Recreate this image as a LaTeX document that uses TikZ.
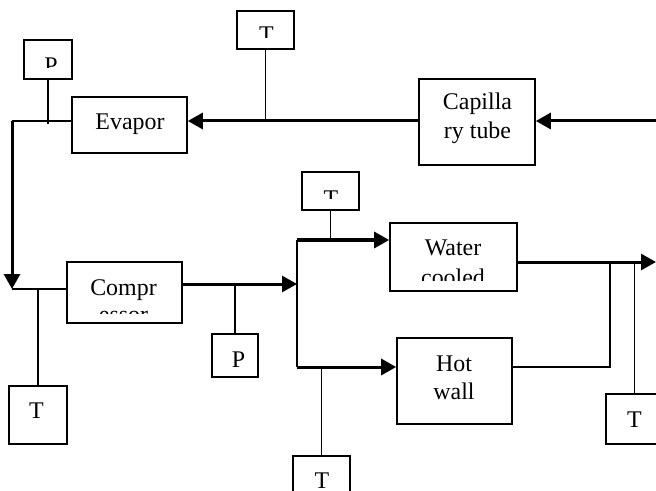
\documentclass[tikz,border=0pt]{standalone}
\usepackage{fontspec}
\setmainfont{Liberation Serif}
\usetikzlibrary{arrows.meta}
\begin{document}
\begin{tikzpicture}[x=1bp,y=-1bp,>={Triangle[length=15bp,width=16bp]},line join=miter]
\tikzset{
  unit/.style={draw,line width=1.6bp,inner sep=0pt},
  sensor/.style={unit},
  flow/.style={line width=3bp},
  tap/.style={line width=1.2bp},
  lbl/.style={inner sep=0pt,anchor=base,font=\fontsize{24}{29}\selectfont},
}
\useasboundingbox (0,0) rectangle (656,491);
\clip (0,0) rectangle (656,491);
%%
  % Node: evaporator
  \node[unit,minimum width=115bp,minimum height=56bp] (evap) at (129.5,125) {};
  \node[lbl] at (130,129.5) {Evapor};
  % Node: capillary
  \node[unit,minimum width=116bp,minimum height=86bp] (cap) at (477,122) {};
  \node[lbl] at (477.5,110) {Capilla};
  \node[lbl] at (477.5,139) {ry tube};
  % Node: compressor
  \node[unit,minimum width=115bp,minimum height=61bp] (comp) at (124.5,292.5) {};
\begin{scope}
  \clip (67,262) rectangle (182,313.5);
  \node[lbl] at (123.5,295) {Compr};
  \node[lbl] at (123.5,322) {essor};
\end{scope}
  % Node: watercooled
  \node[unit,minimum width=127bp,minimum height=68bp] (water) at (453.5,257) {};
\begin{scope}
  \clip (390,223) rectangle (517,280);
  \node[lbl] at (453,256) {Water};
  \node[lbl] at (453,285.5) {cooled};
\end{scope}
  % Node: hotwall
  \node[unit,minimum width=115bp,minimum height=86bp] (hot) at (454.5,381) {};
  \node[lbl] at (454,371) {Hot};
  \node[lbl] at (454,399) {wall};
  % Node: sensors
  \node[sensor,minimum width=48bp,minimum height=39bp] (pev) at (48,59.5) {};
  \node[sensor,minimum width=57bp,minimum height=38bp] (tev) at (265.5,30) {};
  \node[sensor,minimum width=58bp,minimum height=58bp] (tl) at (38,415) {};
  \node[sensor,minimum width=46bp,minimum height=43bp] (pc) at (235,355.5) {};
  \node[sensor,minimum width=57bp,minimum height=38bp] (tw) at (330.5,191) {};
  \node[sensor,minimum width=57bp,minimum height=50bp] (tr) at (634.5,419) {};
  \node[sensor,minimum width=57bp,minimum height=44bp] (tb) at (321.5,478) {};
\begin{scope}
  \clip (24,40) rectangle (72,68);
  \node[lbl] at (51,73.6) {P};
\end{scope}
\begin{scope}
  \clip (237,11) rectangle (294,38);
  \node[lbl] at (266.5,42.6) {T};
\end{scope}
\begin{scope}
  \clip (302,172) rectangle (359,199);
  \node[lbl] at (331,206.6) {T};
\end{scope}
  \node[lbl] at (238.5,367) {P};
  \node[lbl] at (36.5,418) {T};
  \node[lbl] at (634.5,427) {T};
  \node[lbl] at (322,488.6) {T};
  % Edge: inlet -> cap -> evap
  \coordinate (inlet) at (656,121);
  \draw[flow,->] (inlet) -- (cap.east |- inlet);
  \draw[flow,->] (cap.west |- inlet) -- (evap.east |- inlet);
  \draw[tap] (tev.south) -- (tev.south |- inlet);
  % Edge: evap -> comp
  \coordinate (evout) at (12,121);
  \coordinate (compin) at (12,289);
  \draw[tap] (evap.west |- evout) -- (evout);
  \draw[tap] (pev.south) -- ++(0,44);
  \draw[flow,->] (evout) -- (compin);
  \draw[tap] (compin) -- (comp.west |- compin);
  \draw[tap] (tl.north) -- (tl.north |- compin);
  % Edge: comp -> split
  \coordinate (split) at (297,284);
  \draw[flow,->] (comp.east |- split) -- (split);
  \draw[tap] (pc.north) -- (pc.north |- split);
  % Edge: split -> water, split -> hot
  \coordinate (wtin) at (297,240);
  \coordinate (htin) at (297,367);
  \draw[tap] (wtin) -- (htin);
  \draw[flow,->] (wtin) -- (water.west |- wtin);
  \draw[flow,->] (htin) -- (hot.west |- htin);
  \draw[tap] (tw.south) -- (tw.south |- wtin);
  \draw[tap] (tb.north) -- (tb.north |- htin);
  % Edge: water -> outlet, hot -> merge
  \coordinate (outlet) at (656,262);
  \coordinate (merge) at (610,262);
  \draw[flow,->] (water.east |- outlet) -- (outlet);
  \draw[tap] (hot.east |- htin) -- (merge |- htin) -- (merge);
  \draw[tap] (tr.north) -- (tr.north |- outlet);
%
\end{tikzpicture}
\end{document}
